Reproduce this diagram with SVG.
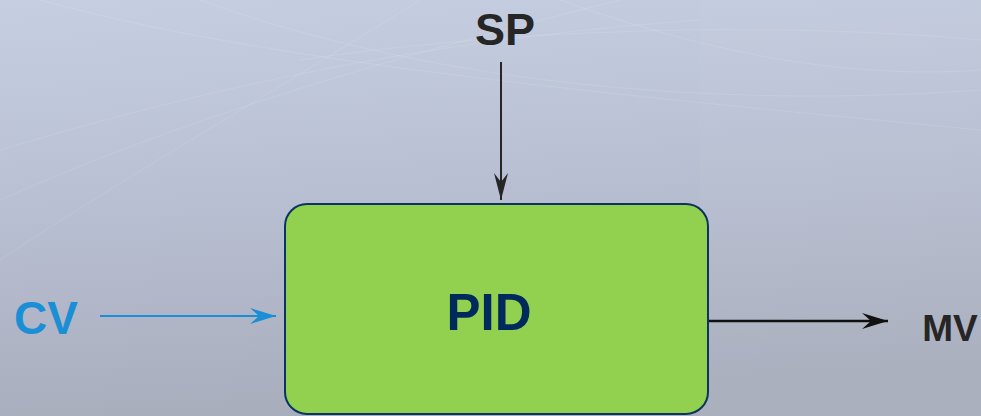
<svg xmlns="http://www.w3.org/2000/svg" width="981" height="416" viewBox="0 0 981 416">
<defs>
<linearGradient id="bg" x1="0" y1="0" x2="0.15" y2="1">
<stop offset="0" stop-color="#c6cfe1"/>
<stop offset="0.5" stop-color="#b8bfd2"/>
<stop offset="1" stop-color="#a9aebd"/>
</linearGradient>
<marker id="ah-blue" viewBox="0 0 26 16" refX="26" refY="8" markerWidth="26" markerHeight="16" markerUnits="userSpaceOnUse" orient="auto">
<path d="M0,0 L26,8 L0,16 L9,8 Z" fill="#1a8fd6"/>
</marker>
<marker id="ah-dark" viewBox="0 0 27 14" refX="27" refY="7" markerWidth="27" markerHeight="14" markerUnits="userSpaceOnUse" orient="auto">
<path d="M0,0 L27,7 L0,14 L9,7 Z" fill="#262626"/>
</marker>
<marker id="ah-black" viewBox="0 0 26 16" refX="26" refY="8" markerWidth="26" markerHeight="16" markerUnits="userSpaceOnUse" orient="auto">
<path d="M0,0 L26,8 L0,16 L9,8 Z" fill="#111"/>
</marker>
</defs>
<style>
.lbl{font-family:"Liberation Sans",Arial,sans-serif;font-weight:bold}
.deco{fill:none;stroke:#ffffff;stroke-opacity:0.1;stroke-width:1}
</style>
<rect width="981" height="416" fill="url(#bg)"/>
<rect x="700" y="0" width="281" height="416" fill="#ffffff" fill-opacity="0.03"/>
<g id="decor">
<path class="deco" d="M0,150 C200,90 420,40 700,20"/>
<path class="deco" d="M0,200 C180,120 380,60 620,0"/>
<path class="deco" d="M40,0 C260,60 560,90 981,130"/>
<path class="deco" d="M200,0 C420,80 700,110 981,90"/>
<path class="deco" d="M300,60 C500,30 760,20 981,40"/>
<path class="deco" d="M0,260 C120,180 260,100 420,0"/>
<path class="deco" d="M560,0 C700,50 840,80 981,70"/>
</g>
<g id="connectors">
<line x1="100" y1="316" x2="276" y2="316" stroke="#1a8fd6" stroke-width="2" marker-end="url(#ah-blue)"/>
<line x1="501" y1="62" x2="501" y2="200" stroke="#262626" stroke-width="2" marker-end="url(#ah-dark)"/>
<line x1="708" y1="321" x2="888" y2="321" stroke="#111" stroke-width="2.5" marker-end="url(#ah-black)"/>
</g>
<g id="node-pid">
<rect x="285" y="204" width="423" height="210" rx="22" ry="22" fill="#92d150" stroke="#0b3461" stroke-width="2"/>
<text class="lbl" x="489" y="330" font-size="51" fill="#002a5c" text-anchor="middle">PID</text>
</g>
<g id="node-sp">
<text class="lbl" x="505" y="45" font-size="45" fill="#262626" text-anchor="middle">SP</text>
</g>
<g id="node-cv">
<text class="lbl" x="46" y="334" font-size="46" fill="#1a8fd6" text-anchor="middle">CV</text>
</g>
<g id="node-mv">
<text class="lbl" x="950" y="341" font-size="37" fill="#262626" text-anchor="middle">MV</text>
</g>
</svg>
